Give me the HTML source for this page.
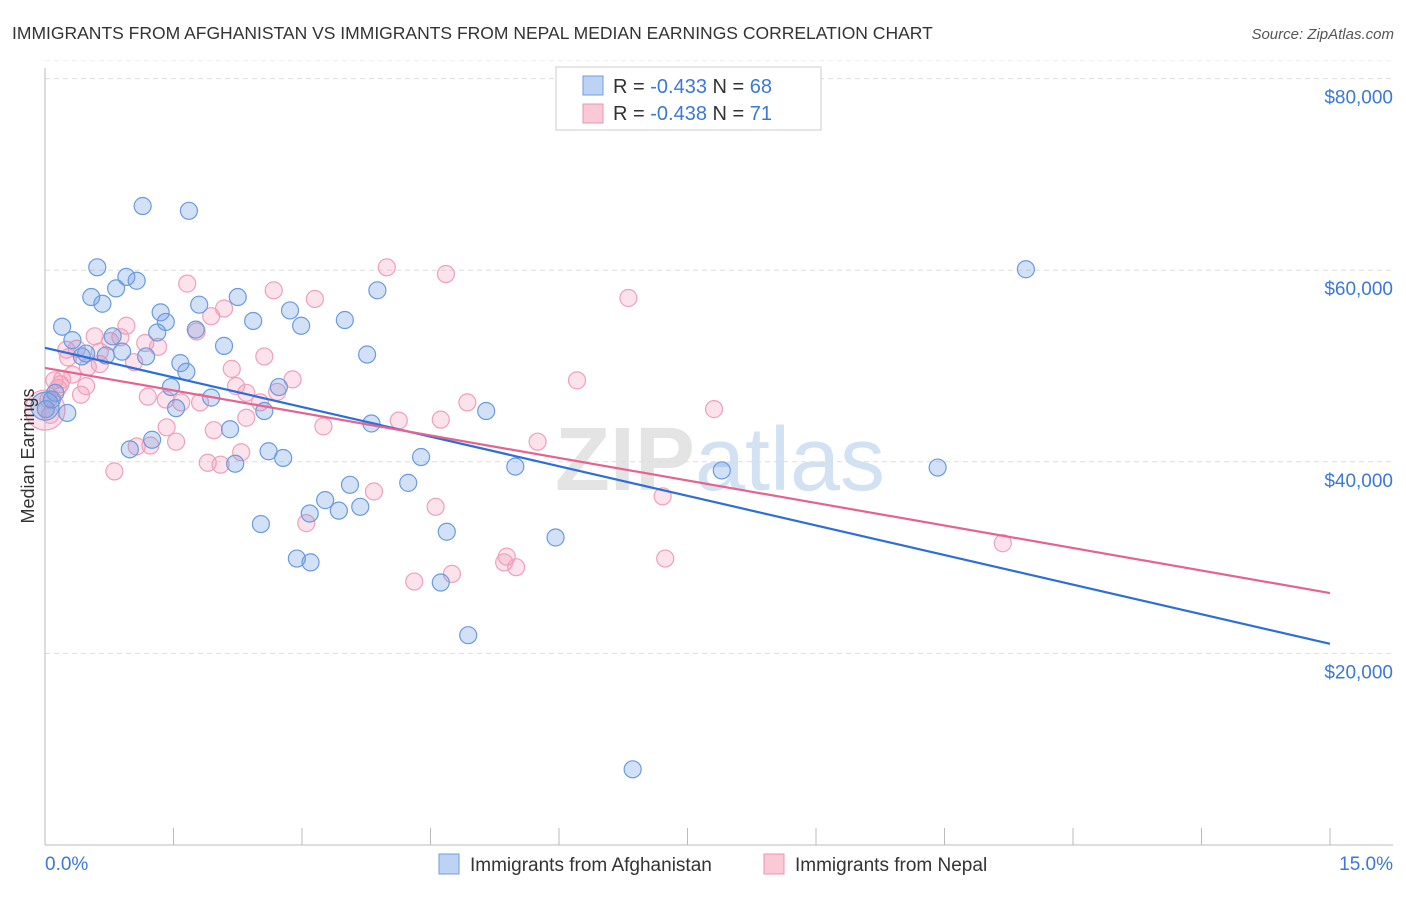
<!DOCTYPE html>
<html><head><meta charset="utf-8"><style>
body{margin:0;background:#fff;font-family:"Liberation Sans",sans-serif;}
svg text{font-family:"Liberation Sans",sans-serif;}
</style></head><body>
<svg id="chart" width="1406" height="892" viewBox="0 0 1406 892" xmlns="http://www.w3.org/2000/svg">
<text x="12" y="39" font-size="17.5" fill="#333">IMMIGRANTS FROM AFGHANISTAN VS IMMIGRANTS FROM NEPAL MEDIAN EARNINGS CORRELATION CHART</text>
<text x="1394" y="39" font-size="15" fill="#555" font-style="italic" text-anchor="end">Source: ZipAtlas.com</text>
<text x="720" y="490" font-size="90" fill="#e4e4e4" text-anchor="middle" font-weight="bold">ZIP<tspan fill="#d3e2f3" font-weight="normal">atlas</tspan></text>
<g id="grid"></g>
<g id="axes"></g>
<g id="pts"></g>
<g id="trends"></g>
<text transform="translate(34,456) rotate(-90)" font-size="18" fill="#333" text-anchor="middle">Median Earnings</text>
<g>
<rect x="556" y="67" width="265" height="63" fill="#fff" stroke="#ccc"/>
<rect x="583" y="76" width="20" height="19" fill="#bcd3f3" stroke="#6f9ee0"/>
<rect x="583" y="104" width="20" height="19" fill="#f9c9d8" stroke="#ee93b0"/>
<text x="613" y="93" font-size="20" fill="#333">R = <tspan fill="#3b78d8">-0.433</tspan>   N = <tspan fill="#3b78d8">68</tspan></text>
<text x="613" y="120" font-size="20" fill="#333">R = <tspan fill="#3b78d8">-0.438</tspan>   N = <tspan fill="#3b78d8"> 71</tspan></text>
</g>
<g>
<rect x="439" y="854" width="20" height="20" fill="#bcd3f3" stroke="#6f9ee0"/>
<text x="470" y="871" font-size="19" fill="#333">Immigrants from Afghanistan</text>
<rect x="764" y="854" width="20" height="20" fill="#f9c9d8" stroke="#ee93b0"/>
<text x="795" y="871" font-size="19" fill="#333">Immigrants from Nepal</text>
</g>
</svg>
<script>
const xTicks=[0,1.5,3,4.5,6,7.5,9,10.5,12,13.5,15];
const yTicks=[20000,40000,60000,80000];
const yTickLabels=["$20,000","$40,000","$60,000","$80,000"];
const xEndLabels=["0.0%","15.0%"];
const afgX=[1.14,1.68,0.61,0.95,1.07,0.83,0.54,0.67,11.45,3.88,2.25,1.80,1.35,1.41,2.86,3.50,2.43,2.99,0.20,0.32,1.31,0.79,1.76,2.09,0.48,0.90,0.43,0.71,1.18,3.76,1.58,1.65,1.47,2.73,1.94,0.12,0.08,0.00,0.01,0.26,1.53,2.56,5.15,3.81,2.16,1.25,0.99,2.61,2.78,2.22,4.39,5.49,7.90,10.42,3.56,4.24,3.27,3.09,3.43,3.68,2.52,4.69,5.96,2.94,3.10,4.62,4.94,6.86];
const afgY=[66.7,66.2,60.3,59.3,58.9,58.1,57.2,56.5,60.1,57.9,57.2,56.4,55.6,54.6,55.8,54.8,54.7,54.2,54.1,52.7,53.5,53.1,53.8,52.1,51.3,51.5,51.0,51.1,51.0,51.2,50.3,49.4,47.8,47.8,46.7,47.2,46.5,45.8,45.5,45.1,45.6,45.3,45.3,44.0,43.4,42.3,41.3,41.1,40.4,39.8,40.5,39.5,39.1,39.4,37.6,37.8,36.0,34.6,34.9,35.3,33.5,32.7,32.1,29.9,29.5,27.4,21.9,7.9];
const nepX=[3.99,4.68,1.66,2.67,6.81,3.15,1.94,2.09,0.95,0.58,0.88,1.77,0.76,0.25,0.37,1.17,1.32,2.56,0.27,1.04,0.64,2.18,2.89,0.50,0.11,0.18,6.21,2.23,0.48,0.42,1.20,1.41,1.59,1.81,2.71,2.35,2.51,4.93,7.81,4.62,4.13,2.35,1.42,3.25,1.97,1.07,1.53,1.23,5.75,2.29,1.90,2.05,0.81,3.84,7.21,4.56,3.05,11.18,5.39,5.36,5.50,7.24,4.75,4.31,0.04,0.06,0.15,0.32,0.0,0.20,0.64];
const nepY=[60.3,59.6,58.6,57.9,57.1,57.0,55.2,56.0,54.2,53.1,53.0,53.6,52.6,51.7,51.8,52.4,52.0,51.0,50.9,50.4,50.2,49.7,48.6,49.9,48.5,48.1,48.5,47.9,47.9,47.0,46.8,46.5,46.2,46.2,47.3,47.2,46.2,46.2,45.5,44.4,44.3,44.6,43.6,43.7,43.3,41.6,42.1,41.7,42.1,41.0,39.9,39.7,39.0,36.9,36.4,35.3,33.6,31.5,30.1,29.5,29.0,29.9,28.3,27.5,46.5,44.9,47.7,49.1,45.4,48.6,51.5];
const afgTrend=[51.9,21.0];
const nepTrend=[49.8,26.3];
const NS="http://www.w3.org/2000/svg";
const X0=45,X1=1330,Y0=845;
const sx=v=>X0+(v/15)*(X1-X0);
const sy=v=>Y0-(v/20000)*191.6;
function mk(tag,attrs,parent){const e=document.createElementNS(NS,tag);for(const k in attrs)e.setAttribute(k,attrs[k]);document.getElementById(parent).appendChild(e);return e;}
yTicks.forEach((t,i)=>{
 const g=mk('line',{x1:45,x2:1393,y1:sy(t),y2:sy(t),stroke:'#ddd','stroke-dasharray':'5,4'},'grid');
 
 
 const l=mk('text',{x:1393,y:sy(t)+25,'font-size':19,fill:'#3b78d8','text-anchor':'end'},'grid');
 l.textContent=yTickLabels[i];
 
 
});
const tg=mk('line',{x1:45,x2:1393,y1:sy(80000)-18,y2:sy(80000)-18,stroke:'#eee','stroke-dasharray':'5,4'},'grid');


const ya=mk('line',{x1:45,x2:45,y1:68,y2:845,stroke:'#bbb'},'axes');


const xa=mk('line',{x1:45,x2:1393,y1:845,y2:845,stroke:'#bbb'},'axes');


xTicks.forEach(t=>{
 const k=mk('line',{x1:sx(t),x2:sx(t),y1:828,y2:845,stroke:'#bbb'},'axes');
 
 
});
const xl0=mk('text',{x:45,y:870,'font-size':19,fill:'#3b78d8'},'axes');
xl0.textContent=xEndLabels[0];


const xl1=mk('text',{x:1393,y:870,'font-size':19,fill:'#3b78d8','text-anchor':'end'},'axes');
xl1.textContent=xEndLabels[1];


function pts(xs,ys,fill,stroke,name,bigIdx,bigR){
 xs.forEach((x,i)=>{
  const c=mk('circle',{cx:sx(x),cy:sy(ys[i]*1000),r:i===bigIdx?bigR:8.5,fill:fill,stroke:stroke,'stroke-width':1.2},'pts');
  
  
 });
}
pts(nepX,nepY,'rgba(244,150,180,0.28)','#f0a0ba','nepal-point',68,20);
pts(afgX,afgY,'rgba(110,155,230,0.3)','#6a9be0','afghanistan-point',37,14);
const t1=mk('line',{x1:sx(0),y1:sy(afgTrend[0]*1000),x2:sx(15),y2:sy(afgTrend[1]*1000),stroke:'#2d6fd6','stroke-width':2.2},'trends');


const t2=mk('line',{x1:sx(0),y1:sy(nepTrend[0]*1000),x2:sx(15),y2:sy(nepTrend[1]*1000),stroke:'#e5648f','stroke-width':2.2},'trends');


</script>
</body></html>
